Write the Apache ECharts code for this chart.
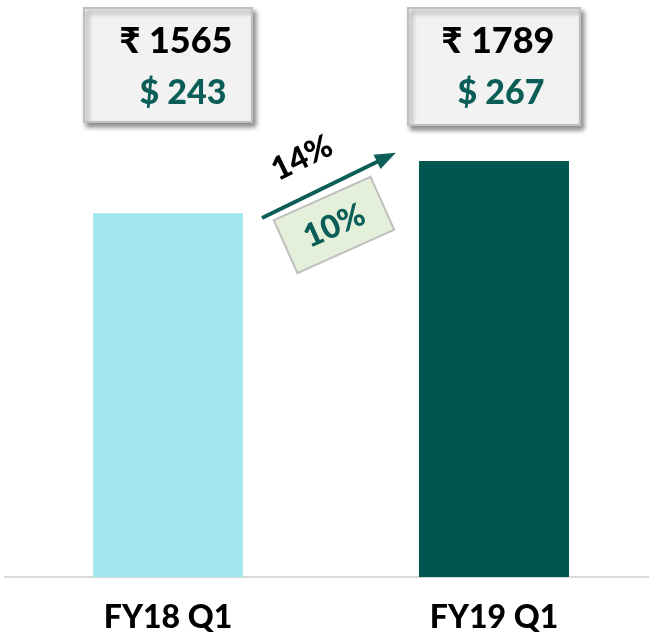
<!DOCTYPE html>
<html>
<head>
<meta charset="utf-8">
<script src="https://cdn.jsdelivr.net/npm/echarts@6/dist/echarts.min.js"></script>
<style>
  html, body { margin: 0; padding: 0; background: #fff; }
  #main { width: 649px; height: 642px; }
</style>
</head>
<body>
<div id="main"></div>
<script>
// data
const categories = ['FY18 Q1', 'FY19 Q1'];
const revenueInr = [1565, 1789];
const inrLabels = ['₹ 1565', '₹ 1789'];
const usdLabels = ['$ 243', '$ 267'];
const barColors = ['#a3e7ee', '#02564f'];
const growthInr = '14%';
const growthUsd = '10%';

const FONT = 'Lato, "Noto Sans", sans-serif';
const TEAL = '#0b5e57';

function valueBox(x, y, w, h, top, bottom, dx) {
    return {
        type: 'group',
        x: x, y: y,
        children: [
            {
                type: 'rect',
                shape: { x: 0, y: 0, width: w, height: h },
                style: {
                    fill: '#f2f2f2', stroke: '#bfbfbf', lineWidth: 2,
                    shadowBlur: 5, shadowOffsetX: 3, shadowOffsetY: 4,
                    shadowColor: 'rgba(0,0,0,0.45)'
                }
            },
            {
                type: 'text', x: w / 2 + dx[0], y: 33,
                style: { text: top, fill: '#000', font: '900 36px ' + FONT, textAlign: 'center', textVerticalAlign: 'middle' }
            },
            {
                type: 'text', x: w / 2 + dx[1], y: 85,
                style: { text: bottom, fill: TEAL, font: '900 34px ' + FONT, textAlign: 'center', textVerticalAlign: 'middle' }
            }
        ]
    };
}

const myChart = echarts.init(document.getElementById('main'));

const eConfig = {
    animation: false,
    grid: { left: 5, width: 652, top: 19, bottom: 65, outerBoundsMode: 'none' },
    xAxis: {
        type: 'category',
        data: categories,
        axisLine: { lineStyle: { color: '#d9d9d9', width: 2 } },
        axisTick: { show: false },
        axisLabel: { margin: 25, color: '#000', fontSize: 32, fontWeight: 900, fontFamily: FONT }
    },
    yAxis: {
        type: 'value',
        min: 0,
        max: 2400,
        show: false,
        splitLine: { show: false }
    },
    series: [{
        type: 'bar',
        barWidth: '46%',
        data: revenueInr.map((v, i) => ({ value: v, itemStyle: { color: barColors[i] } }))
    }],
    graphic: [
        valueBox(84, 8, 168, 114, inrLabels[0], usdLabels[0], [8, 15]),
        valueBox(408, 8, 172, 117, inrLabels[1], usdLabels[1], [4, 7]),
        {
            // growth arrow
            type: 'group',
            x: 262, y: 218,
            rotation: 0.454,
            children: [
                { type: 'line', shape: { x1: 0, y1: 0, x2: 130, y2: 0 }, style: { stroke: TEAL, lineWidth: 4 } },
                { type: 'polygon', shape: { points: [[128, -8], [149, 0], [128, 8]] }, style: { fill: TEAL } }
            ]
        },
        {
            type: 'text', x: 302, y: 158, rotation: 0.454,
            style: { text: growthInr, fill: '#000', font: '900 32px ' + FONT, textAlign: 'center', textVerticalAlign: 'middle' }
        },
        {
            type: 'group',
            x: 334, y: 225,
            rotation: 0.42,
            children: [
                {
                    type: 'rect',
                    shape: { x: -53, y: -29, width: 106, height: 58 },
                    style: { fill: '#e5f0db', stroke: '#c0c0c0', lineWidth: 2 }
                },
                {
                    type: 'text', x: 0, y: 1,
                    style: { text: growthUsd, fill: TEAL, font: '900 32px ' + FONT, textAlign: 'center', textVerticalAlign: 'middle' }
                }
            ]
        }
    ]
};

myChart.setOption(eConfig);
</script>
</body>
</html>
